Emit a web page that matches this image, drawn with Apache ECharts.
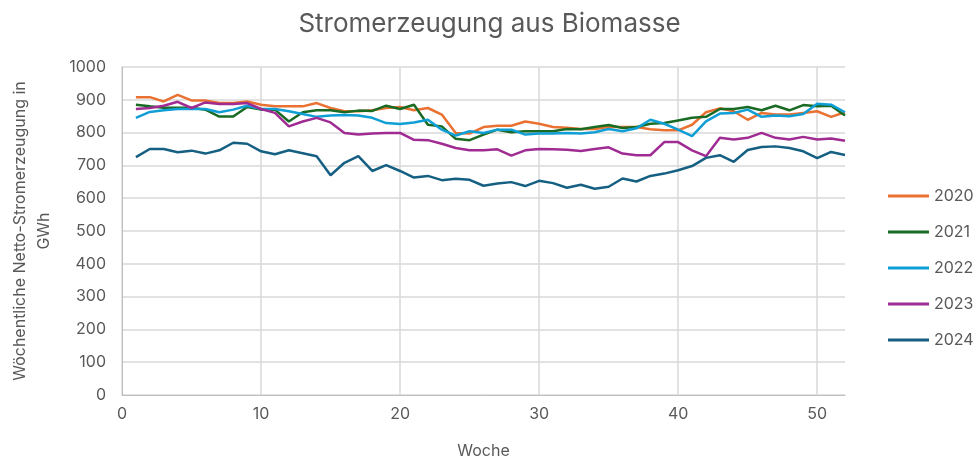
<html>
<head>
<meta charset="UTF-8">
<title>Stromerzeugung aus Biomasse</title>
<script src="https://cdn.jsdelivr.net/npm/echarts@6/dist/echarts.min.js"></script>
<style>
    body{
        margin:0;
        background:#fff;
    }
    #main{
        width:979px;
        height:464px;
    }
</style>
</head>
<body>
<div id="main"></div>
<script>
// Wochen 1..52
var weeks = [];
for (var w = 1; w <= 52; w++) { weeks.push(w); }

var years = ['2020', '2021', '2022', '2023', '2024'];
var colors = ['#E97132', '#196B24', '#0F9ED5', '#A02B93', '#156082'];

var v2020 = [908, 908, 895, 915, 898, 898, 890, 890, 895, 885, 880, 880, 880, 890, 875, 865, 865, 868, 875, 878,
             868, 875, 855, 799, 797, 817, 821, 821, 834, 827, 817, 815, 811, 811, 817, 817, 817, 810, 807, 807,
             824, 862, 874, 865, 839, 860, 855, 855, 860, 865, 848, 862];
var v2021 = [885, 880, 876, 876, 876, 870, 849, 849, 878, 870, 870, 834, 862, 868, 868, 862, 867, 866, 882, 872,
             885, 824, 819, 781, 777, 794, 809, 801, 804, 804, 804, 811, 810, 817, 823, 814, 817, 827, 829, 837,
             845, 848, 872, 872, 878, 868, 882, 868, 884, 880, 882, 852];
var v2022 = [845, 863, 868, 872, 872, 872, 862, 870, 882, 872, 872, 865, 857, 848, 852, 854, 852, 845, 829, 826,
             831, 839, 809, 791, 804, 799, 809, 809, 794, 797, 797, 799, 797, 801, 811, 804, 813, 839, 827, 809,
             789, 834, 858, 860, 870, 848, 852, 850, 857, 888, 885, 862];
var v2023 = [872, 875, 882, 894, 875, 892, 887, 887, 890, 872, 860, 819, 834, 845, 831, 799, 794, 797, 799, 799,
             778, 777, 766, 753, 746, 746, 749, 730, 746, 750, 749, 748, 744, 750, 755, 736, 731, 731, 771, 771,
             746, 728, 784, 779, 784, 799, 784, 779, 787, 779, 782, 775];
var v2024 = [725, 750, 750, 740, 745, 736, 746, 769, 766, 743, 734, 746, 737, 728, 670, 708, 728, 683, 701, 683,
             663, 668, 655, 659, 656, 638, 645, 649, 637, 653, 646, 632, 641, 629, 635, 660, 651, 668, 675, 685,
             698, 723, 731, 711, 747, 756, 758, 753, 743, 722, 741, 732];

var values = [v2020, v2021, v2022, v2023, v2024];

var yTicks = [0, 100, 200, 300, 400, 500, 600, 700, 800, 900, 1000];

var font = 'Inter, "Noto Sans", sans-serif';
var grey = '#595959';

var series = [];
for (var i = 0; i < years.length; i++) {
    var pts = [];
    for (var k = 0; k < weeks.length; k++) {
        pts.push([weeks[k], values[i][k]]);
    }
    series.push({
        name: years[i],
        type: 'line',
        data: pts,
        showSymbol: false,
        symbol: 'none',
        lineStyle: { width: 2.5, color: colors[i] },
        itemStyle: { color: colors[i] }
    });
}

var myChart = echarts.init(document.getElementById('main'));

var option = {
    animation: false,
    textStyle: { fontFamily: font },
    title: {
        text: 'Stromerzeugung aus Biomasse',
        left: 'center',
        top: 6,
        textStyle: { fontFamily: font, fontSize: 26, fontWeight: 'normal', color: grey }
    },
    legend: {
        orient: 'vertical',
        left: 888,
        top: 188,
        padding: 0,
        itemWidth: 41,
        itemHeight: 3,
        itemGap: 20,
        icon: 'rect',
        data: years,
        textStyle: { fontFamily: font, fontSize: 16, color: grey, lineHeight: 16 }
    },
    grid: {
        left: 118,
        right: 134,
        top: 67,
        bottom: 66,
        containLabel: false
    },
    xAxis: {
        type: 'value',
        min: 0,
        max: 52,
        interval: 10,
        name: 'Woche',
        nameLocation: 'middle',
        nameGap: 48,
        nameTextStyle: { fontFamily: font, fontSize: 16, color: grey },
        axisLine: { show: true, lineStyle: { color: '#bfbfbf', width: 1 } },
        axisTick: { show: false },
        axisLabel: { fontFamily: font, fontSize: 16, color: grey, margin: 11, showMaxLabel: false },
        splitLine: { show: true, showMaxLine: false, lineStyle: { color: '#d9d9d9', width: 1.5 } }
    },
    yAxis: {
        type: 'value',
        min: yTicks[0],
        max: yTicks[yTicks.length - 1],
        interval: 100,
        name: 'Wöchentliche Netto-Stromerzeugung in\nGWh',
        nameLocation: 'middle',
        nameRotate: 90,
        nameGap: 66,
        nameTextStyle: { fontFamily: font, fontSize: 16, color: grey, lineHeight: 24, align: 'center' },
        axisLine: { show: true, lineStyle: { color: '#bfbfbf', width: 1 } },
        axisTick: { show: false },
        axisLabel: {
            fontFamily: font, fontSize: 16, color: grey, margin: 16,
            formatter: function (v) { return String(v); }
        },
        splitLine: { show: true, lineStyle: { color: '#d9d9d9', width: 1.5 } }
    },
    series: series
};

myChart.setOption(option);
</script>
</body>
</html>
